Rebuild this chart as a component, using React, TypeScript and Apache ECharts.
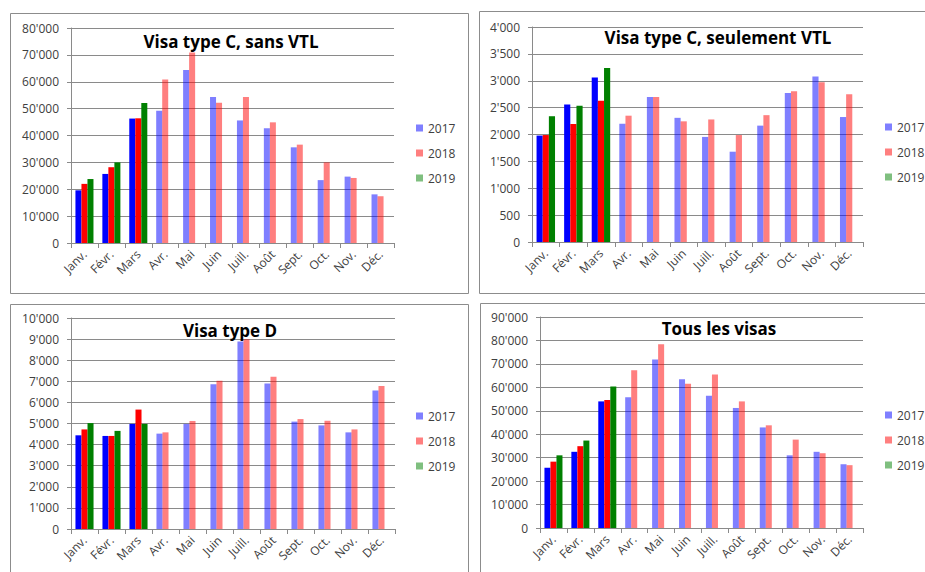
import React, { useEffect, useRef } from "react";
import * as echarts from "echarts";

const months = ["Janv.", "Févr.", "Mars", "Avr.", "Mai", "Juin", "Juill.", "Août", "Sept.", "Oct.", "Nov.", "Déc."];
const years = ["2017", "2018", "2019"];

const sansVtl2017 = [19600, 25700, 46300, 49200, 64400, 54300, 45600, 42700, 35600, 23400, 24700, 18100];
const sansVtl2018 = [22000, 28200, 46400, 60800, 70900, 52200, 54300, 44900, 36600, 30000, 24200, 17400];
const sansVtl2019 = [23800, 30000, 52100];

const vtl2017 = [1980, 2560, 3060, 2200, 2700, 2310, 1955, 1680, 2165, 2770, 3080, 2325];
const vtl2018 = [1990, 2195, 2630, 2350, 2700, 2245, 2280, 1990, 2360, 2805, 2970, 2750];
const vtl2019 = [2340, 2535, 3235];

const typeD2017 = [4440, 4410, 4980, 4520, 4980, 6860, 8890, 6890, 5090, 4910, 4580, 6560];
const typeD2018 = [4720, 4410, 5660, 4580, 5120, 7030, 8990, 7220, 5210, 5130, 4720, 6780];
const typeD2019 = [5020, 4650, 4980];

const tous2017 = [25700, 32500, 54000, 55800, 71900, 63400, 56400, 51200, 42900, 31000, 32500, 27200];
const tous2018 = [28300, 34900, 54600, 67300, 78400, 61500, 65500, 54000, 43800, 37700, 31900, 26800];
const tous2019 = [31000, 37300, 60400];

const titles = ["Visa type C, sans VTL", "Visa type C, seulement VTL", "Visa type D", "Tous les visas"];
const yMax = [80000, 4000, 10000, 90000];
const yInterval = [10000, 500, 1000, 10000];

const panelData = [
  [sansVtl2017, sansVtl2018, sansVtl2019],
  [vtl2017, vtl2018, vtl2019],
  [typeD2017, typeD2018, typeD2019],
  [tous2017, tous2018, tous2019],
];

const darkColors = ["#0000FF", "#FF0000", "#008000"];
const lightColors = ["rgba(0,0,255,0.5)", "rgba(255,0,0,0.5)", "rgba(0,128,0,0.5)"];
const highlightedMonths = 3;

// layout (pixels)
const grids = [
  { left: 71, top: 28, width: 323, height: 215 },
  { left: 532, top: 27, width: 331, height: 215 },
  { left: 71, top: 318, width: 324, height: 211 },
  { left: 540, top: 317, width: 323, height: 211 },
];
const titlePos = [
  [231, 41],
  [718, 37],
  [230, 330],
  [719, 328],
];
const legendPos = [
  [416, 122],
  [885, 121],
  [416, 410],
  [885, 409],
];
const borders = [
  { x: 10.5, y: 13.5, width: 458, height: 280 },
  { x: 479.5, y: 11.5, width: 470, height: 282 },
  { x: 10.5, y: 304.5, width: 458, height: 300 },
  { x: 480.5, y: 303.5, width: 470, height: 300 },
];

const FONT = '"Open Sans", "Noto Sans", sans-serif';
const TEXT = "#404040";
const GRID = "#8a8a8a";

function fmt(v: number): string {
  const s = String(Math.round(v));
  return s.replace(/\B(?=(\d{3})+(?!\d))/g, "'");
}

export default function App() {
  const ref = useRef<HTMLDivElement>(null);
  useEffect(() => {
    if (!ref.current) return;
    const chart = echarts.init(ref.current, null, { renderer: "svg" });
    const series: any[] = [];
    panelData.forEach((sets, p) => {
      sets.forEach((vals, y) => {
        const data = months.map((_, i) => {
          const v = i < vals.length ? vals[i] : null;
          if (v === null) return null;
          if (i < highlightedMonths) return { value: v, itemStyle: { color: darkColors[y] } };
          return v;
        });
        series.push({
          type: "bar",
          name: years[y],
          xAxisIndex: p,
          yAxisIndex: p,
          barGap: "0%",
          barCategoryGap: "33%",
          itemStyle: { color: lightColors[y] },
          data,
        });
      });
    });
    chart.setOption({
      animation: false,
      textStyle: { fontFamily: FONT },
      grid: grids.map((g) => ({ ...g, containLabel: false })),
      xAxis: grids.map((_, p) => ({
        type: "category",
        gridIndex: p,
        data: months,
        axisLine: { lineStyle: { color: GRID } },
        axisTick: { show: true, length: 5, lineStyle: { color: GRID } },
        axisLabel: { rotate: 45, interval: 0, fontSize: 12, color: TEXT, margin: 9, fontFamily: FONT },
      })),
      yAxis: grids.map((_, p) => ({
        type: "value",
        gridIndex: p,
        min: 0,
        max: yMax[p],
        interval: yInterval[p],
        axisLine: { show: true, lineStyle: { color: GRID } },
        axisTick: { show: true, length: 4, lineStyle: { color: GRID } },
        splitLine: { lineStyle: { color: GRID, width: 1 } },
        axisLabel: { fontSize: 12, color: TEXT, margin: 12, fontFamily: FONT, formatter: (v: number) => fmt(v) },
      })),
      legend: legendPos.map(([x, y]) => ({
        orient: "vertical",
        left: x,
        top: y,
        padding: 0,
        data: years,
        icon: "rect",
        itemWidth: 7,
        itemHeight: 7,
        itemGap: 13,
        selectedMode: false,
        textStyle: { fontSize: 12, color: TEXT, fontFamily: FONT },
      })),
      graphic: [
        ...borders.map((b) => ({
          type: "rect",
          shape: b,
          style: { fill: "none", stroke: "#8c8c8c", lineWidth: 1 },
          silent: true,
        })),
        ...titles.map((t, p) => ({
          type: "text",
          x: titlePos[p][0],
          y: titlePos[p][1],
          z: 10,
          style: {
            text: t,
            font: `bold 17px ${FONT}`,
            fill: "#000",
            textAlign: "center",
            textVerticalAlign: "middle",
          },
        })),
      ],
      series,
    });
    return () => chart.dispose();
  }, []);
  return <div ref={ref} style={{ position: "fixed", left: 0, top: 0, width: 925, height: 572, background: "#fff" }} />;
}
